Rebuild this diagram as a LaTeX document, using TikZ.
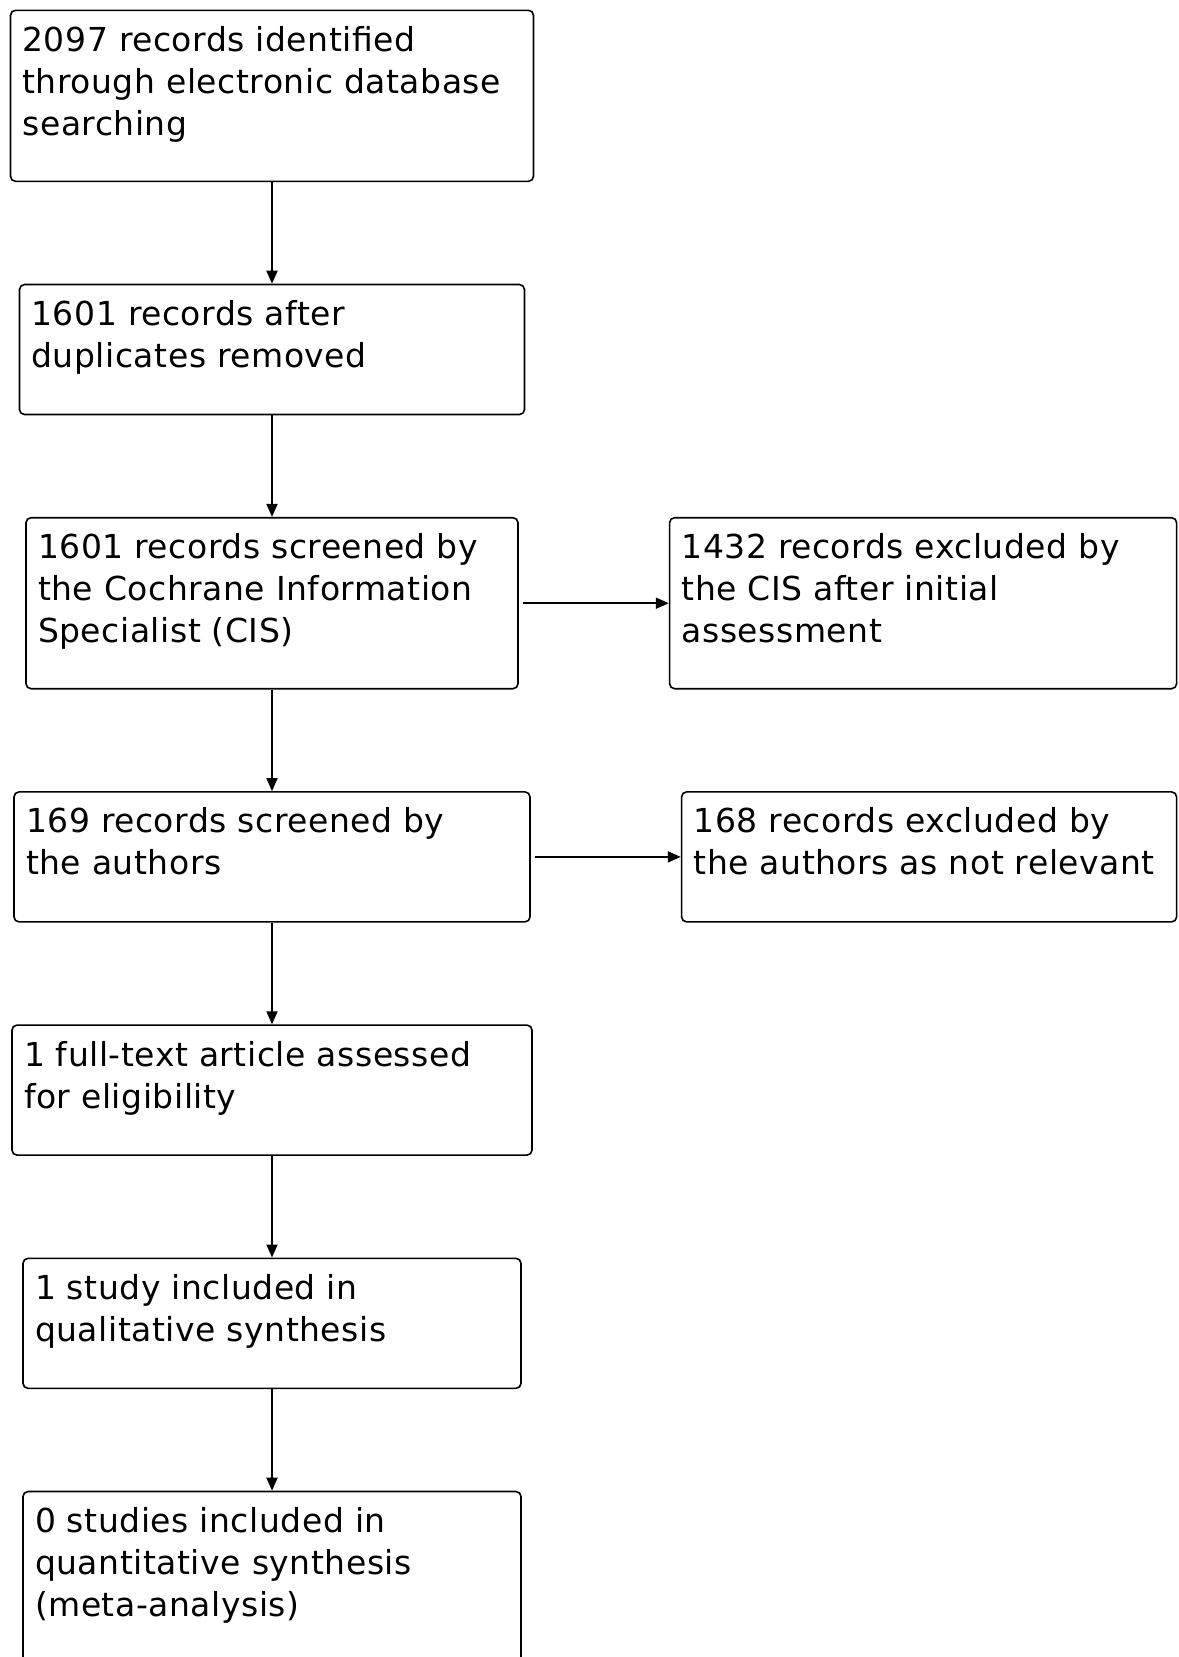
\documentclass[tikz,border=0pt]{standalone}
\usepackage{fontspec}
\setmainfont{DejaVu Sans}[LetterSpace=1.6]
\usetikzlibrary{positioning,arrows.meta}

\begin{document}
\begin{tikzpicture}[x=1pt, y=-1pt,
  box/.style={draw, line width=1.6pt, rounded corners=5pt, align=left,
    inner xsep=12pt, inner ysep=0pt, text height=41pt, text depth=#1,
    font=\fontsize{33}{42}\selectfont},
  flow/.style={-{Triangle[length=13pt,width=11pt]}, line width=1.8pt}]
  % Fix the page size
  \useasboundingbox (0,0) rectangle (1178,1657);

  % Main column of boxes
  \node[box=130pt, text width=499pt, anchor=north] (search) at (272,9.5)
    {2097 records identified\\through electronic database\\searching};
  \node[box=89pt, text width=481pt, below=101.6pt of search] (dedup)
    {1601 records after\\duplicates removed};
  \node[box=130pt, text width=468pt, below=101.6pt of dedup] (screen)
    {1601 records screened by\\the Cochrane Information\\Specialist (CIS)};
  \node[box=89pt, text width=492pt, below=101.6pt of screen] (authors)
    {169 records screened by\\the authors};
  \node[box=89pt, text width=496pt, below=101.6pt of authors] (fulltext)
    {1 full-text article assessed\\for eligibility};
  \node[box=89pt, text width=474pt, below=101.6pt of fulltext] (qual)
    {1 study included in\\qualitative synthesis};
  \node[box=130pt, text width=474pt, below=101.6pt of qual] (quant)
    {0 studies included in\\quantitative synthesis\\(meta-analysis)};

  % Exclusion boxes on the right
  \node[box=130pt, text width=483pt, right=150pt of screen] (exclcis)
    {1432 records excluded by\\the CIS after initial\\assessment};
  \node[box=89pt, text width=471pt, right=150pt of authors] (exclauth)
    {168 records excluded by\\the authors as not relevant};

  % Arrows
  \draw[flow] (search) -- (dedup);
  \draw[flow] (dedup) -- (screen);
  \draw[flow] (screen) -- (authors);
  \draw[flow] (authors) -- (fulltext);
  \draw[flow] (fulltext) -- (qual);
  \draw[flow] (qual) -- (quant);
  \draw[flow, shorten <=4pt] (screen) -- (exclcis);
  \draw[flow, shorten <=4pt] (authors) -- (exclauth);
\end{tikzpicture}
\end{document}
